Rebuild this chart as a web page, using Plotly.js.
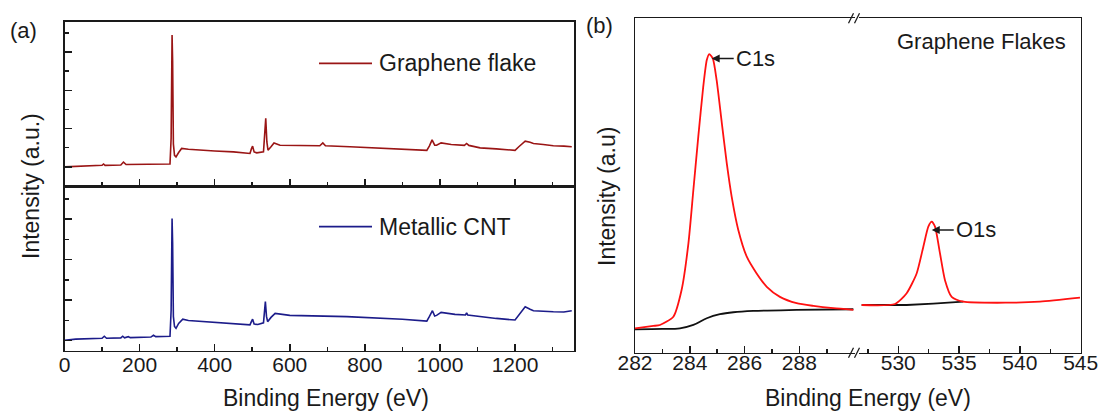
<!DOCTYPE html>
<html>
<head>
<meta charset="utf-8">
<script src="https://cdn.plot.ly/plotly-3.0.1.min.js"></script>
<style>html,body{margin:0;padding:0;background:#fff;}#chart{width:1101px;height:412px;}</style>
</head>
<body>
<div id="chart"></div>
<script>
// ---------- Panel (a): survey spectra ----------
const surveyEnergy_flake = [0,50,100,104,108,150,157,164,230,270,281,284,286.5,288,290,293,297,304,312,330,361,400,450,494,498,501,505,512,530,533,536,539,542,550,558,574,620,680,688,695,760,840,900,965,972,979,986,991,1003,1030,1065,1071,1077,1107,1150,1200,1210,1227,1240,1249,1275,1302,1330,1351];
const surveyIntensity_flake = [1.00,1.05,1.08,1.15,1.08,1.10,1.25,1.12,1.13,1.14,1.15,2.5,7.88,6.5,2.2,1.6,1.52,1.75,1.96,1.92,1.87,1.83,1.78,1.70,1.95,2.08,1.78,1.73,1.78,2.6,3.53,2.3,1.87,2.05,2.25,2.13,2.12,2.10,2.25,2.10,2.05,1.99,1.93,1.86,2.1,2.41,2.13,2.13,2.25,2.17,2.12,2.22,2.12,1.99,1.94,1.86,2.05,2.34,2.28,2.22,2.17,2.10,2.08,2.05];

const surveyEnergy_cnt = [0,30,100,106,112,150,155,160,170,175,230,237,243,270,281,284,286.5,288,290,293,297,304,315,330,401,450,494,498,501,505,515,530,533,535,538,541,550,561,600,652,752,900,965,972,980,986,991,1003,1040,1068,1071,1074,1107,1150,1200,1210,1227,1240,1249,1302,1330,1351];
const surveyIntensity_cnt = [1.02,1.08,1.12,1.22,1.12,1.14,1.22,1.14,1.2,1.15,1.18,1.27,1.2,1.2,1.22,2.5,7.04,5.8,2.2,1.7,1.61,1.85,2.06,2.0,1.91,1.85,1.78,1.95,2.06,1.82,1.8,1.88,2.4,2.93,2.2,1.94,2.15,2.35,2.25,2.22,2.19,2.06,1.97,2.2,2.48,2.22,2.25,2.40,2.3,2.27,2.37,2.27,2.19,2.1,2.02,2.25,2.68,2.55,2.48,2.43,2.42,2.48];

const seriesNames = ["Graphene flake", "Metallic CNT"];
const surveyTicks = [0,200,400,600,800,1000,1200];

// ---------- Panel (b): high resolution C1s / O1s ----------
const c1sEnergy = [282.0,282.67,282.91,283.40,283.70,283.95,284.13,284.31,284.49,284.62,284.71,284.84,284.98,285.17,285.35,285.53,285.77,286.08,286.44,286.81,287.29,287.90,288.51,289.24,289.97];
const c1sIntensity = [7.3,8.0,8.28,10.77,18.75,32.7,48.65,64.6,79.5,87.5,89.3,88.0,81.5,68.6,56.6,46.6,36.7,28.7,23.7,19.7,16.7,14.8,14.0,13.3,12.8];
const c1sBgEnergy = [282.0,283.0,283.64,284.13,284.62,285.1,285.59,286.32,287.9,289.97];
const c1sBgIntensity = [7.0,7.1,7.3,8.3,10.3,11.5,12.1,12.5,12.8,13.0];

const o1sEnergy = [526.99,529.73,530.69,531.51,532.06,532.47,532.75,533.02,533.43,533.84,534.39,535.35,538.91,541.65,544.94];
const o1sIntensity = [14.26,14.56,17.8,23.7,31.7,37.7,39.2,37.7,29.7,21.7,16.7,15.25,14.95,15.25,16.45];
const o1sBgEnergy = [526.99,530.69,532.88,534.2,535.35];
const o1sBgIntensity = [14.26,14.26,14.66,15.05,15.25];

const peakLabels = ["C1s", "O1s"];
const peakPos = [[284.8, 88.0], [532.75, 36.7]];
const c1sTicks = [282,284,286,288];
const o1sTicks = [530,535,540,545];

// ---------- helpers ----------
const W = 1101, H = 412;
const px = v => v / W;
const py = v => 1 - v / H;
const FONT = "Liberation Sans, Arial, sans-serif";
const INK = "#1a1a1a";
const FLAKE = "#9a1515", CNT = "#1c1c8a", RED = "#ff1111", BG = "#111111";

const traces = [
  {x: surveyEnergy_flake, y: surveyIntensity_flake, xaxis: "x", yaxis: "y", mode: "lines", name: seriesNames[0], line: {color: FLAKE, width: 1.6}},
  {x: surveyEnergy_cnt, y: surveyIntensity_cnt, xaxis: "x2", yaxis: "y2", mode: "lines", name: seriesNames[1], line: {color: CNT, width: 1.6}},
  {x: c1sBgEnergy, y: c1sBgIntensity, xaxis: "x3", yaxis: "y3", mode: "lines", line: {color: BG, width: 1.8, shape: "spline"}},
  {x: c1sEnergy, y: c1sIntensity, xaxis: "x3", yaxis: "y3", mode: "lines", line: {color: RED, width: 1.8, shape: "spline", smoothing: 0.6}},
  {x: o1sBgEnergy, y: o1sBgIntensity, xaxis: "x4", yaxis: "y4", mode: "lines", line: {color: BG, width: 1.8}},
  {x: o1sEnergy, y: o1sIntensity, xaxis: "x4", yaxis: "y4", mode: "lines", line: {color: RED, width: 1.8, shape: "spline", smoothing: 0.6}}
];

const axBase = {showline: true, linecolor: INK, linewidth: 1.5, ticks: "inside", ticklen: 7, tickwidth: 1.5, tickcolor: INK,
  showgrid: false, zeroline: false, tickfont: {family: FONT, size: 21, color: INK}, fixedrange: true};
const minorIn = {ticks: "inside", ticklen: 4, tickwidth: 1.5, tickcolor: INK, showgrid: false};

const xA = [px(64.5), px(574)];
const layout = {
  width: W, height: H, margin: {l: 0, r: 0, t: 0, b: 0},
  paper_bgcolor: "#fff", plot_bgcolor: "rgba(0,0,0,0)", showlegend: false,
  font: {family: FONT, color: INK},
  xaxis: Object.assign({}, axBase, {domain: xA, anchor: "y", range: [0, 1357], tickvals: surveyTicks, showticklabels: false, mirror: true,
    minor: Object.assign({dtick: 100, tick0: 0}, minorIn)}),
  yaxis: Object.assign({}, axBase, {domain: [py(186), py(21.7)], anchor: "x", range: [0, 8.58], tick0: 1, dtick: 2, showticklabels: false, mirror: true,
    minor: Object.assign({dtick: 1, tick0: 0}, minorIn)}),
  xaxis2: Object.assign({}, axBase, {domain: xA, anchor: "y2", range: [0, 1357], tickvals: surveyTicks, ticktext: surveyTicks.map(String), mirror: true,
    ticklabelstandoff: -5, minor: Object.assign({dtick: 100, tick0: 0}, minorIn)}),
  yaxis2: Object.assign({}, axBase, {domain: [py(350.7), py(186)], anchor: "x2", range: [0.506, 8.64], tick0: 1, dtick: 2, showticklabels: false, mirror: true,
    minor: Object.assign({dtick: 1, tick0: 0}, minorIn)}),
  xaxis3: Object.assign({}, axBase, {domain: [px(635), px(855)], anchor: "y3", range: [282, 290.03], tickvals: c1sTicks, ticktext: c1sTicks.map(String), mirror: true,
    ticklabelstandoff: -9, minor: Object.assign({dtick: 1, tick0: 282}, minorIn)}),
  yaxis3: Object.assign({}, axBase, {domain: [py(352.7), py(18.3)], anchor: "x3", range: [0, 100], ticks: "", showticklabels: false}),
  xaxis4: Object.assign({}, axBase, {domain: [px(859), px(1080.7)], anchor: "y4", range: [526.77, 545], tickvals: o1sTicks, ticktext: o1sTicks.map(String), mirror: true,
    ticklabelstandoff: -9, minor: Object.assign({dtick: 2.5, tick0: 527.5}, minorIn)}),
  yaxis4: Object.assign({}, axBase, {domain: [py(352.7), py(18.3)], anchor: "x4", side: "right", matches: "y3", range: [0, 100], ticks: "", showticklabels: false}),
  annotations: [],
  shapes: []
};

function txt(t, x, y, size, opts) {
  return Object.assign({text: t, xref: "paper", yref: "paper", x: px(x), y: py(y), showarrow: false,
    xanchor: "center", yanchor: "middle", font: {family: FONT, size: size, color: INK}}, opts || {});
}
layout.annotations.push(
  txt("(a)", 23, 31, 22),
  txt("(b)", 599, 26, 22),
  txt("Intensity (a.u.)", 31, 186, 23, {textangle: -90}),
  txt("Binding Energy (eV)", 326, 398, 23),
  txt("Intensity (a.u)", 607, 197, 23, {textangle: -90}),
  txt("Binding Energy (eV)", 868, 398, 23),
  txt("Graphene Flakes", 895, 41.7, 22, {xanchor: "left"}),
  txt(seriesNames[0], 377, 63.3, 23, {xanchor: "left"}),
  txt(seriesNames[1], 377, 226.7, 23, {xanchor: "left"})
);
// peak labels with arrows
[["x3", "y3"], ["x4", "y4"]].forEach((ax, i) => {
  layout.annotations.push({text: peakLabels[i], xref: ax[0], yref: ax[1], x: peakPos[i][0], y: peakPos[i][1],
    showarrow: true, ax: 22, ay: 0, xanchor: "left", yanchor: "middle", arrowhead: 2, arrowsize: 1, arrowwidth: 1.6,
    arrowcolor: INK, standoff: 0, font: {family: FONT, size: 22, color: INK}});
});
// legend samples
layout.shapes.push(
  {type: "line", xref: "paper", yref: "paper", x0: px(319), x1: px(372), y0: py(63.3), y1: py(63.3), line: {color: FLAKE, width: 1.8}},
  {type: "line", xref: "paper", yref: "paper", x0: px(319), x1: px(372), y0: py(226.7), y1: py(226.7), line: {color: CNT, width: 1.8}}
);
// axis break marks
[18.3, 352.7].forEach(yb => {
  [851, 857].forEach(xb => {
    layout.shapes.push({type: "line", xref: "paper", yref: "paper", x0: px(xb - 2.5), y0: py(yb + 5), x1: px(xb + 2.5), y1: py(yb - 5), line: {color: INK, width: 1.3}});
  });
});

Plotly.newPlot("chart", traces, layout, {displayModeBar: false, staticPlot: true});
</script>
</body>
</html>
